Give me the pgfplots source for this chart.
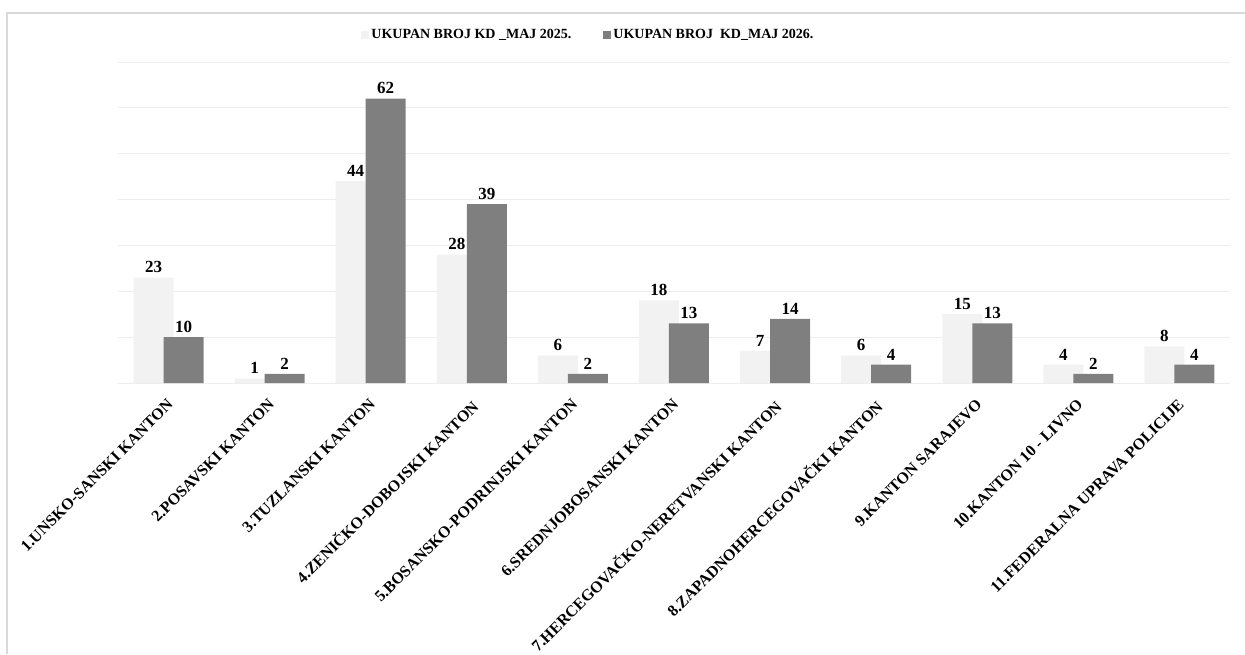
\documentclass[border=0pt]{standalone}
\usepackage{pgfplots}
\pgfplotsset{compat=1.18}
\usepackage{fontspec}
\setmainfont{Liberation Serif}

\definecolor{lightbar}{HTML}{F2F2F2}
\definecolor{darkbar}{HTML}{7F7F7F}
\definecolor{gridc}{HTML}{EDEDED}
\definecolor{axisc}{HTML}{BFBFBF}
\definecolor{framec}{HTML}{D9D9D9}

\begin{document}
\begin{tikzpicture}[x=1pt,y=1pt]
\path[use as bounding box] (0,0) rectangle (1245,654);
\draw[framec, line width=1.5pt] (7,0) -- (7,641) -- (1245,641);

\begin{axis}[
  at={(118pt,271pt)}, anchor=south west,
  scale only axis,
  width=1112pt, height=321pt,
  xmin=-0.5, xmax=10.5,
  ymin=0, ymax=70,
  enlargelimits=false,
  ybar, bar width=40pt,
  axis line style={draw=none},
  ytick={10,20,...,70}, yticklabels={},
  ymajorgrids, major grid style={gridc, line width=1pt},
  extra y ticks={0}, extra y tick labels={},
  extra y tick style={grid style={axisc, line width=1.5pt}},
  tick style={draw=none},
  xtick={0,...,10},
  xticklabels={1.UNSKO-SANSKI KANTON, 2.POSAVSKI KANTON, 3.TUZLANSKI KANTON,
    4.ZENIČKO-DOBOJSKI KANTON, 5.BOSANSKO-PODRINJSKI KANTON,
    6.SREDNJOBOSANSKI KANTON, 7.HERCEGOVAČKO-NERETVANSKI KANTON,
    8.ZAPADNOHERCEGOVAČKI KANTON, 9.KANTON SARAJEVO, 10.KANTON 10 - LIVNO,
    11.FEDERALNA UPRAVA POLICIJE},
  xticklabel style={rotate=45, anchor=north east, inner sep=0pt,
    xshift=-9pt, yshift=-6pt, font=\bfseries\fontsize{16}{16}\selectfont},
  /pgf/number format/assume math mode=true,
  nodes near coords,
  every node near coord/.append style={font=\bfseries\fontsize{17}{17}\selectfont, text=black, yshift=1pt},
  legend columns=2,
  legend style={at={(0.216,1.084)}, anchor=west, draw=none, fill=none,
    font=\bfseries\fontsize{14}{16}\selectfont,
    /tikz/every even column/.append style={column sep=30pt}},
]
\addplot[fill=lightbar, draw=none, bar shift=-15pt,
  legend image code/.code={\fill[lightbar] (0pt,-4pt) rectangle (8pt,4pt);}]
  coordinates {(0,23) (1,1) (2,44) (3,28) (4,6) (5,18) (6,7) (7,6) (8,15) (9,4) (10,8)};
\addlegendentry{UKUPAN BROJ KD \_MAJ 2025.}
\addplot[fill=darkbar, draw=none, bar shift=15pt,
  legend image code/.code={\fill[darkbar] (0pt,-4pt) rectangle (8pt,4pt);}]
  coordinates {(0,10) (1,2) (2,62) (3,39) (4,2) (5,13) (6,14) (7,4) (8,13) (9,2) (10,4)};
\addlegendentry{UKUPAN BROJ \ KD\_MAJ 2026.}
\end{axis}
\end{tikzpicture}
\end{document}
